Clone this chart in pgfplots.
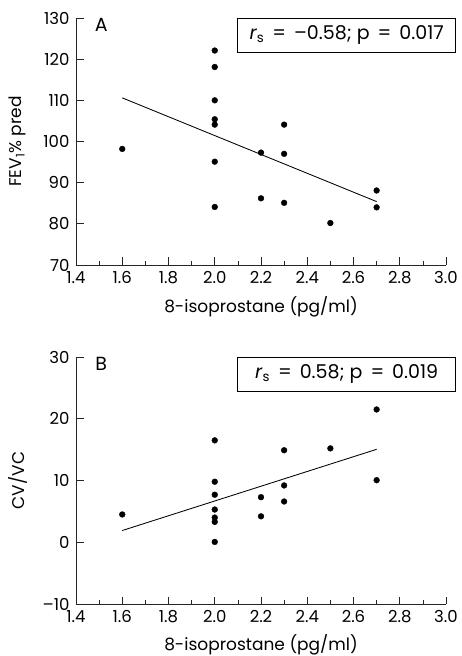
\documentclass[border=0pt]{standalone}
\usepackage{pgfplots}
\pgfplotsset{compat=1.18}
\usepackage{fontspec}
\setmainfont{Poppins}
\tikzset{
 rbox/.style={draw, line width=0.7pt, minimum width=218pt, minimum height=34pt, inner sep=0pt, font=\fontsize{19}{21}\selectfont, anchor=north east},
}
\newcommand{\eqs}{\hspace{0.42em}=\hspace{0.42em}}
\pgfplotsset{
 common/.style={
  scale only axis, width=370pt, height=247pt, anchor=south west,
  axis x line=bottom, axis y line=left,
  axis line style={-, line width=0.75pt, black!85},
  xmin=1.4, xmax=3.0, xtick={1.4,1.6,1.8,2.0,2.2,2.4,2.6,2.8,3.0}, minor x tick num=1,
  tick label style={font=\fontsize{16.5}{18}\selectfont, /pgf/number format/assume math mode=true},
  x tick label style={/pgf/number format/fixed, /pgf/number format/fixed zerofill, /pgf/number format/precision=1, yshift=-3pt},
  y tick label style={xshift=-3pt},
  tick align=inside,
  major tick length=7.5pt, minor tick length=3.8pt,
  tick style={line width=0.75pt, black!85},
  xlabel={8-isoprostane (pg/ml)},
  every axis y label/.style={at={(axis description cs:-0.157,0.5)}, rotate=90, anchor=center, font=\fontsize{17}{19}\selectfont},
  clip=false,
 },
 dots/.style={only marks, mark=*, mark size=2.9pt, black},
 fit/.style={no marks, black, line width=0.85pt},
}
\begin{document}
\begin{tikzpicture}
\useasboundingbox (0pt,0pt) rectangle (461pt,656pt);
\begin{axis}[common, at={(76pt,391pt)}, ymin=70, ymax=130, ytick={70,80,90,100,110,120,130},
  ylabel={FEV\textsubscript{1}\% pred},
  every axis x label/.style={at={(axis description cs:0.5,-0.17)}, anchor=center, font=\fontsize{17}{19}\selectfont}]
\addplot[dots] coordinates {
(1.6,98.2)
(2.0,122.1)(2.0,118.1)(2.0,110.0)(2.0,105.4)(2.0,104.1)(2.0,95.1)(2.0,84.1)
(2.2,97.3)(2.2,86.2)
(2.3,104.1)(2.3,97.0)(2.3,85.1)
(2.5,80.2)
(2.7,88.1)(2.7,84.0)
};
\addplot[fit] coordinates {(1.6,110.6)(2.7,85.4)};
\node[font=\fontsize{19}{21}\selectfont] at (rel axis cs:0.068,0.972) {A};
\node[rbox] at (rel axis cs:1.027,1) {\textit{r}\textsubscript{s}\eqs–0.58; p\eqs0.017};
\end{axis}
\begin{axis}[common, at={(76pt,52pt)}, ymin=-10, ymax=30, ytick={-10,0,10,20,30},
  yticklabels={–10,0,10,20,30},
  ylabel={CV/VC},
  every axis x label/.style={at={(axis description cs:0.5,-0.166)}, anchor=center, font=\fontsize{17}{19}\selectfont}]
\addplot[dots] coordinates {
(1.6,4.5)
(2.0,16.5)(2.0,9.8)(2.0,7.7)(2.0,5.3)(2.0,4.0)(2.0,3.3)(2.0,0.05)
(2.2,7.3)(2.2,4.2)
(2.3,14.9)(2.3,9.2)(2.3,6.6)
(2.5,15.2)
(2.7,21.5)(2.7,10.05)
};
\addplot[fit] coordinates {(1.6,1.9)(2.7,15.05)};
\node[font=\fontsize{19}{21}\selectfont] at (rel axis cs:0.068,0.972) {B};
\node[rbox] at (rel axis cs:1.027,1) {\textit{r}\textsubscript{s}\eqs0.58; p\eqs0.019};
\end{axis}
\end{tikzpicture}
\end{document}
